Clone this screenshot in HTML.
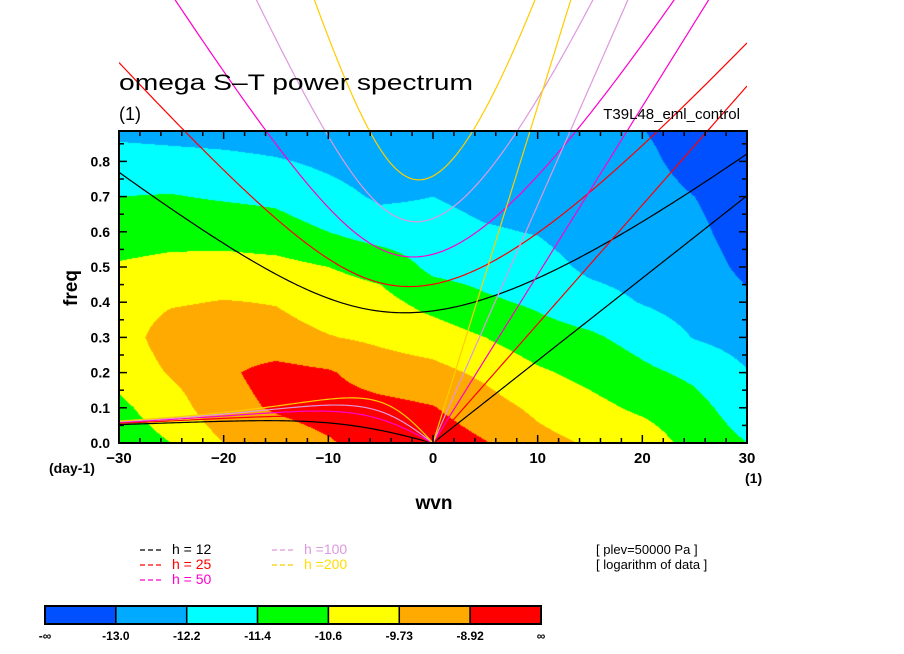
<!DOCTYPE html>
<html><head><meta charset="utf-8">
<style>
html,body{margin:0;padding:0;background:#fff;width:904px;height:654px;overflow:hidden}
#wrap{position:relative;width:904px;height:654px}
canvas{position:absolute;left:119px;top:131px}
svg{position:absolute;left:0;top:0}
text{font-family:"Liberation Sans",sans-serif}
</style></head><body>
<div id="wrap">
<canvas id="cv" width="628" height="312"></canvas>
<svg id="sv" width="904" height="654"></svg>
</div>
<script>
// ---- data ----
const wvnGrid = [-30,-25,-20,-15,-10,-5,0,5,10,15,20,25,30];
const freqGrid = [0,0.1,0.2,0.3,0.4,0.5,0.6,0.7,0.8,0.9];
// contour level index per column (band k = between threshold k and k+1)
const col_m30 = [3.5,3.8,4.3,4.5,4.5,4.1,3.5,3.0,2.5,1.6];
const col_m25 = [4.0,4.5,5.1,5.5,4.9,4.3,3.6,3.05,2.4,1.5];
const col_m20 = [5.0,5.7,5.85,5.6,5.05,4.35,3.6,2.9,2.3,1.4];
const col_m15 = [5.5,6.1,6.3,5.4,4.95,4.3,3.4,2.8,2.1,1.3];
const col_m10 = [5.9,6.4,6.1,5.05,4.5,4.0,3.0,2.35,1.8,1.3];
const col_m5  = [6.5,6.3,5.5,4.8,4.3,3.7,2.5,1.85,1.5,1.3];
const col_0   = [6.6,6.05,5.3,4.5,3.65,2.75,2.4,2.0,1.6,1.4];
const col_p5  = [6.05,5.4,4.8,4.0,3.15,2.6,2.1,1.7,1.5,1.4];
const col_p10 = [5.3,4.8,4.15,3.4,2.85,2.4,1.95,1.6,2.0,1.4];
const col_p15 = [4.9,4.3,3.7,3.15,2.4,1.8,1.5,1.4,1.3,1.2];
const col_p20 = [4.6,3.8,3.2,2.65,1.95,1.6,1.45,1.35,1.2,1.0];
const col_p25 = [3.6,3.3,2.8,1.95,1.6,1.4,1.2,1.0,0.7,0.6];
const col_p30 = [3.0,2.5,2.05,1.6,1.15,0.8,0.6,0.5,0.4,0.3];
const levelThresholds = [1,2,3,4,5,6];
const levelLabels = ["-\u221e","-13.0","-12.2","-11.4","-10.6","-9.73","-8.92","\u221e"];
const levelColors = ["#0050ff","#00aaff","#00ffff","#00ff00","#ffff00","#ffaa00","#ff0000"];
const depths = [12,25,50,100,200];
const depthColors = ["#000000","#ff0000","#ff00cc","#dd99dd","#ffcc00"];
const xTicks = [-30,-20,-10,0,10,20,30];
const yTicks = [0,0.1,0.2,0.3,0.4,0.5,0.6,0.7,0.8];

const columns = [col_m30,col_m25,col_m20,col_m15,col_m10,col_m5,col_0,col_p5,col_p10,col_p15,col_p20,col_p25,col_p30];
const X0=119,X1=747,Y0=443,Ytop=131;
const xs = w => X0 + (w+30)/60*(X1-X0);
const ys = f => Y0 - f*352;
const NS='http://www.w3.org/2000/svg';
const sv=document.getElementById('sv');
function mk(tag,attrs,parent){const e=document.createElementNS(NS,tag);for(const k in attrs)e.setAttribute(k,attrs[k]);(parent||sv).appendChild(e);return e;}

// ---- field ----
const cv=document.getElementById('cv');const ctx=cv.getContext('2d');
const img=ctx.createImageData(628,312);
const rgb=levelColors.map(c=>[parseInt(c.substr(1,2),16),parseInt(c.substr(3,2),16),parseInt(c.substr(5,2),16)]);
function val(w,f){
  let i=0;while(i<wvnGrid.length-2&&w>wvnGrid[i+1])i++;
  let j=0;while(j<freqGrid.length-2&&f>freqGrid[j+1])j++;
  const tx=Math.max(0,Math.min(1,(w-wvnGrid[i])/(wvnGrid[i+1]-wvnGrid[i])));
  const ty=Math.max(0,Math.min(1,(f-freqGrid[j])/(freqGrid[j+1]-freqGrid[j])));
  const a=columns[i][j],b=columns[i+1][j],c=columns[i][j+1],d=columns[i+1][j+1];
  return a*(1-tx)*(1-ty)+b*tx*(1-ty)+c*(1-tx)*ty+d*tx*ty;
}
for(let py=0;py<312;py++){for(let px=0;px<628;px++){
  const w=(px+0.5)/(X1-X0)*60-30, f=(Y0-(py+Ytop+0.5))/352;
  const v=val(w,f);let k=0;while(k<levelThresholds.length&&v>=levelThresholds[k])k++;
  const o=(py*628+px)*4;img.data[o]=rgb[k][0];img.data[o+1]=rgb[k][1];img.data[o+2]=rgb[k][2];img.data[o+3]=255;}}
ctx.putImageData(img,0,0);

// ---- dispersion curves ----
const a=6.371e6,beta=2*7.292e-5/a,g=9.81;
const defs=mk('defs',{});const cp=mk('clipPath',{id:'clipc'},defs);mk('rect',{x:X0,y:0,width:X1-X0,height:Y0},cp);
const cg=mk('g',{'clip-path':'url(#clipc)'});


function roots(k,c){
  const p=-(c*c*k*k+3*beta*c),q=-beta*c*c*k;
  const m=2*Math.sqrt(-p/3);let arg=3*q/(2*p)*Math.sqrt(-3/p);arg=Math.max(-1,Math.min(1,arg));
  const th=Math.acos(arg)/3;const r=[0,1,2].map(j=>m*Math.cos(th-2*Math.PI*j/3));r.sort((x,y)=>x-y);return r;
}
const toF=om=>om*86400/(2*Math.PI);
depths.forEach((h,di)=>{
  const c=Math.sqrt(g*h);const col=depthColors[di];
  let ig='',ro='',kv='';
  for(let w=-30;w<=30.001;w+=0.25){
    const k=w/a;const r=roots(k===0?1e-12:k,c);
    ig+=(ig?'L':'M')+xs(w).toFixed(2)+','+ys(toF(r[2])).toFixed(2);
    if(w<=0.001){ro+=(ro?'L':'M')+xs(w).toFixed(2)+','+ys(toF(w<0?r[1]:0)).toFixed(2);}
    if(w>=-0.001){kv+=(kv?'L':'M')+xs(w).toFixed(2)+','+ys(toF(c*k)).toFixed(2);}
  }
  const e1=mk('path',{d:ig,fill:'none',stroke:col,'stroke-width':1.2},cg);
  
  
  const e2=mk('path',{d:ro,fill:'none',stroke:col,'stroke-width':1.2},cg);
  
  
  const e3=mk('path',{d:kv,fill:'none',stroke:col,'stroke-width':1.2},cg);
  
  
});

// ---- frame & ticks ----
const fr=mk('rect',{x:X0,y:Ytop,width:X1-X0,height:Y0-Ytop,fill:'none',stroke:'#000','stroke-width':2});


const tg=mk('g',{stroke:'#000','stroke-width':1.5});


for(let w=-30;w<=30;w+=2){const L=(w%10===0)?8:5;const x=xs(w);
  mk('line',{x1:x,y1:Y0,x2:x,y2:Y0-L},tg);mk('line',{x1:x,y1:Ytop,x2:x,y2:Ytop+L},tg);}
for(let i=0;i<=17;i++){const f=i*0.05;const L=(i%2===0)?8:5;const y=ys(f);if(y<Ytop)continue;
  mk('line',{x1:X0,y1:y,x2:X0+L,y2:y},tg);mk('line',{x1:X1,y1:y,x2:X1-L,y2:y},tg);}
xTicks.forEach(w=>{const t=mk('text',{x:xs(w),y:463,'text-anchor':'middle','font-size':15,'font-weight':'bold'});t.textContent=(w<0?'\u2212':'')+Math.abs(w);
  
  });
yTicks.forEach(f=>{const t=mk('text',{x:110,y:ys(f)+5,'text-anchor':'end','font-size':14,'font-weight':'bold'});t.textContent=f.toFixed(1);
  
  });
function txt(s,attrs,name){const t=mk('text',attrs);t.textContent=s;return t;}
txt('omega S\u2013T power spectrum',{x:119,y:90,'font-size':22,textLength:354,lengthAdjust:'spacingAndGlyphs'},'chart-title');
txt('(1)',{x:119,y:120,'font-size':18},'title-units');
txt('T39L48_eml_control',{x:740,y:119,'font-size':15,'text-anchor':'end'},'experiment-label');
txt('freq',{x:77,y:288,'font-size':19,'font-weight':'bold',transform:'rotate(-90 77 288)','text-anchor':'middle'},'y-axis-title');
txt('wvn',{x:434,y:509,'font-size':19,'font-weight':'bold','text-anchor':'middle'},'x-axis-title');
txt('(day-1)',{x:49,y:473,'font-size':14,'font-weight':'bold'},'y-units');
txt('(1)',{x:745,y:483,'font-size':14,'font-weight':'bold'},'x-units');

// ---- legend ----
const legPos=[[140,554],[140,569],[140,584],[272,554],[272,569]];
depths.forEach((h,i)=>{const [x,y]=legPos[i];const col=depthColors[i];
  const l=mk('line',{x1:x,y1:y-4,x2:x+24,y2:y-4,stroke:col,'stroke-width':1.2,'stroke-dasharray':'5,3'});
  
  
  const s=h<100?('h = '+h):('h ='+h);
  txt(s,{x:x+32,y:y,'font-size':14,fill:col==='#ffcc00'?'#ffdd00':col},'legend-entry-h'+h);});
txt('[ plev=50000 Pa ]',{x:596,y:554,'font-size':13},'plev-note');
txt('[ logarithm of data ]',{x:596,y:569,'font-size':13},'log-note');

// ---- colorbar ----
const cbX=45,cbW=496,cbY=606,cbH=18;const seg=cbW/levelColors.length;
levelColors.forEach((c,i)=>{const r=mk('rect',{x:cbX+i*seg,y:cbY,width:seg,height:cbH,fill:c,stroke:'#000','stroke-width':1.5});
  
  });
mk('rect',{x:cbX,y:cbY,width:cbW,height:cbH,fill:'none',stroke:'#000','stroke-width':2});
levelLabels.forEach((s,i)=>{txt(s,{x:cbX+i*seg,y:640,'font-size':12,'font-weight':'bold','text-anchor':'middle'},'colorbar-label');});
</script>
</body></html>
